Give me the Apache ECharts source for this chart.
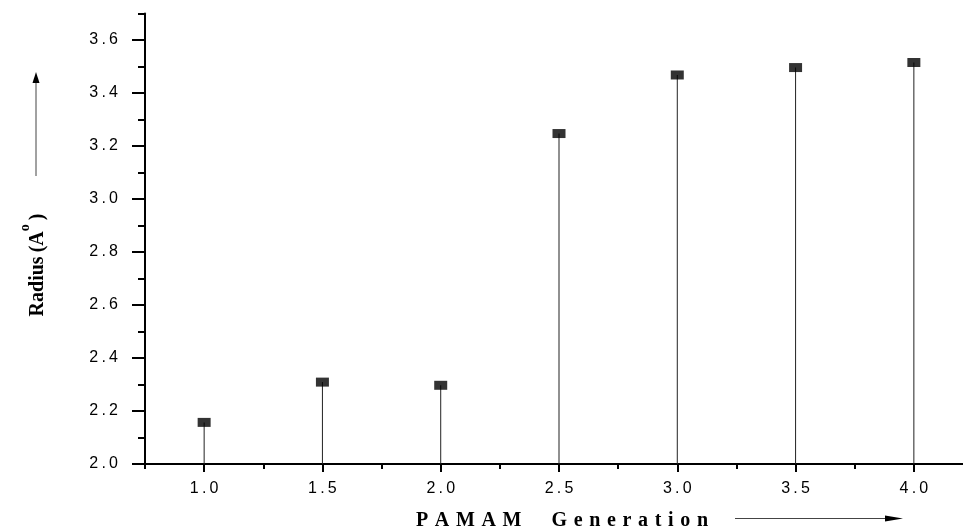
<!DOCTYPE html>
<html>
<head>
<meta charset="utf-8">
<script src="https://cdn.jsdelivr.net/npm/echarts@6/dist/echarts.min.js"></script>
<style>html,body{margin:0;padding:0;background:#fff}#c{width:963px;height:531px}</style>
</head>
<body>
<div id="c"></div>
<script>
// Data
const generations = [1.0, 1.5, 2.0, 2.5, 3.0, 3.5, 4.0];
const radius = [2.157, 2.309, 2.297, 3.247, 3.468, 3.496, 3.515];
const xMajorTicks = [1.0, 1.5, 2.0, 2.5, 3.0, 3.5, 4.0];
const xMinorTicks = [0.75, 1.25, 1.75, 2.25, 2.75, 3.25, 3.75];
const yMajorTicks = [2.0, 2.2, 2.4, 2.6, 2.8, 3.0, 3.2, 3.4, 3.6];
const yMinorTicks = [2.1, 2.3, 2.5, 2.7, 2.9, 3.1, 3.3, 3.5, 3.7];
const xTitle = 'P\u2004A\u2004M\u2004A\u2004M\u2003\u2002G\u2004e\u2004n\u2004e\u2004r\u2004a\u2004t\u2004i\u2004o\u2004n';
const yTitle = '{t|Radius\u2009(A}{s|o}{t|\u2009)}';

const pairs = generations.map((g, i) => [g, radius[i]]);
const fmt = v => v.toFixed(1).replace('.', '\u2009.\u2009');
const labelFont = {fontFamily: 'Liberation Sans, Arial, sans-serif', fontSize: 16, color: '#000'};
const serif = 'Liberation Serif, Times New Roman, serif';

const chart = echarts.init(document.getElementById('c'), null, {renderer: 'canvas'});
chart.setOption({
  animation: false,
  backgroundColor: '#fff',
  grid: {left: 145, right: -10, top: 13.5, bottom: 67, containLabel: false, outerBoundsMode: 'none'},
  xAxis: [{
    type: 'value', min: 0.75, max: 4.25,
    axisLine: {show: true, lineStyle: {color: '#000', width: 2}},
    axisTick: {show: true, length: 8, lineStyle: {color: '#000', width: 2}, customValues: xMajorTicks},
    axisLabel: Object.assign({margin: 17, customValues: xMajorTicks, formatter: fmt}, labelFont),
    splitLine: {show: false}
  }, {
    type: 'value', min: 0.75, max: 4.25, position: 'bottom',
    axisLine: {show: false},
    axisTick: {show: true, length: 5, lineStyle: {color: '#000', width: 2}, customValues: xMinorTicks},
    axisLabel: {show: false},
    splitLine: {show: false}
  }],
  yAxis: [{
    type: 'value', min: 2.0, max: 3.7,
    axisLine: {show: true, lineStyle: {color: '#000', width: 2}},
    axisTick: {show: true, length: 13, lineStyle: {color: '#000', width: 2}, customValues: yMajorTicks},
    axisLabel: Object.assign({margin: 27, customValues: yMajorTicks, formatter: fmt}, labelFont),
    splitLine: {show: false}
  }, {
    type: 'value', min: 2.0, max: 3.7, position: 'left',
    axisLine: {show: false},
    axisTick: {show: true, length: 7, lineStyle: {color: '#000', width: 2}, customValues: yMinorTicks},
    axisLabel: {show: false},
    splitLine: {show: false}
  }],
  series: [{
    type: 'bar', xAxisIndex: 0, yAxisIndex: 0, data: pairs, barWidth: 1, clip: true,
    itemStyle: {color: '#222'}, z: 2
  }, {
    type: 'scatter', xAxisIndex: 0, yAxisIndex: 0, data: pairs,
    symbol: 'rect', symbolSize: [13, 9], itemStyle: {color: '#000'}, z: 3
  }],
  graphic: [
    {type: 'text', x: 562, y: 521, style: {text: xTitle, fontFamily: serif, fontWeight: 'bold', fontSize: 20, fill: '#000', align: 'center', verticalAlign: 'middle'}},
    {type: 'text', x: 33, y: 265, rotation: Math.PI / 2, style: {
      text: yTitle, align: 'center', verticalAlign: 'middle',
      rich: {
        t: {fontFamily: serif, fontWeight: 'bold', fontSize: 20, fill: '#000', lineHeight: 30, verticalAlign: 'bottom'},
        s: {fontFamily: serif, fontWeight: 'bold', fontSize: 14, fill: '#000', lineHeight: 30, verticalAlign: 'top'}
      }
    }},
    {type: 'line', shape: {x1: 36, y1: 176, x2: 36, y2: 80}, style: {stroke: '#444', lineWidth: 1}},
    {type: 'polygon', shape: {points: [[36, 72], [32.5, 83], [39.5, 83]]}, style: {fill: '#000'}},
    {type: 'line', shape: {x1: 735, y1: 518.5, x2: 890, y2: 518.5}, style: {stroke: '#444', lineWidth: 1}},
    {type: 'polygon', shape: {points: [[903, 518.5], [885, 515.5], [885, 521.5]]}, style: {fill: '#000'}}
  ]
});
</script>
</body>
</html>
